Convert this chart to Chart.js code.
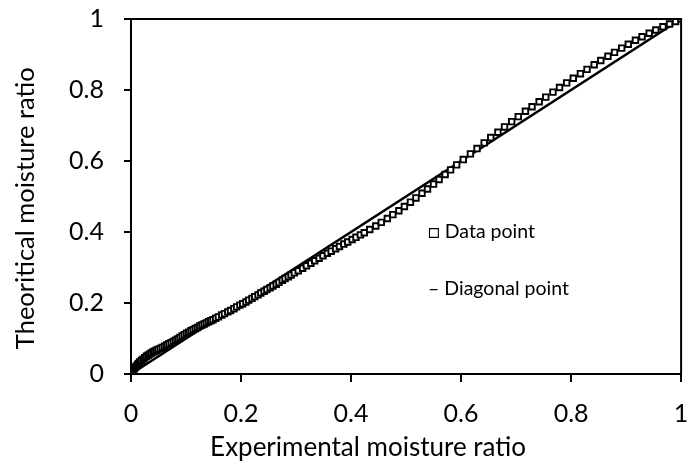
<!DOCTYPE html>
<html>
<head>
<meta charset="utf-8">
<script src="https://cdn.jsdelivr.net/npm/chart.js@4.4.1/dist/chart.umd.min.js"></script>
<style>
  html, body { margin: 0; padding: 0; background: #fff; }
  #wrap { width: 687px; height: 463px; position: relative; }
</style>
</head>
<body>
<div id="wrap"><canvas id="c" width="687" height="463"></canvas></div>
<script>
// Experimental moisture ratio (x) of each data point
const experimentalMR = [
  0, 0.002, 0.004, 0.006, 0.008, 0.010, 0.012, 0.014, 0.016, 0.019,
  0.022, 0.025, 0.028, 0.031, 0.034, 0.037, 0.040, 0.043, 0.046, 0.049,
  0.053, 0.057, 0.061, 0.065, 0.069, 0.073, 0.077, 0.081, 0.085, 0.089,
  0.093, 0.097, 0.101, 0.105, 0.109, 0.113, 0.117, 0.121, 0.125, 0.129,
  0.133, 0.137, 0.141, 0.145, 0.149,
  0.154, 0.159, 0.165, 0.170, 0.176, 0.181, 0.187, 0.192, 0.198, 0.203,
  0.209, 0.214, 0.220, 0.225, 0.231, 0.236, 0.242, 0.247, 0.253, 0.258,
  0.264, 0.269, 0.275, 0.280, 0.286, 0.291, 0.297,
  0.304, 0.312, 0.319, 0.327, 0.334, 0.342, 0.349, 0.357, 0.364, 0.372,
  0.379, 0.387, 0.394, 0.402, 0.409, 0.417, 0.424,
  0.434, 0.445, 0.455, 0.466, 0.476, 0.487, 0.497, 0.508, 0.518, 0.529,
  0.539, 0.550, 0.560, 0.571, 0.581, 0.592,
  0.604, 0.617, 0.629, 0.642, 0.654, 0.667, 0.679, 0.692, 0.704, 0.717,
  0.729, 0.742, 0.754, 0.767, 0.779, 0.792, 0.804, 0.817, 0.829, 0.842,
  0.854, 0.867, 0.879, 0.892, 0.904, 0.917, 0.929, 0.942, 0.954, 0.967,
  0.979, 0.990, 1.000
];
// Theoretical (predicted) moisture ratio (y) of each data point
const theoreticalMR = [
  0, 0.005, 0.010, 0.015, 0.019, 0.023, 0.027, 0.030, 0.034, 0.038,
  0.042, 0.046, 0.050, 0.053, 0.056, 0.059, 0.062, 0.064, 0.067, 0.069,
  0.072, 0.075, 0.078, 0.082, 0.085, 0.088, 0.092, 0.095, 0.099, 0.103,
  0.107, 0.111, 0.115, 0.118, 0.122, 0.125, 0.128, 0.131, 0.135, 0.138,
  0.141, 0.144, 0.147, 0.150, 0.153,
  0.157, 0.161, 0.166, 0.170, 0.175, 0.179, 0.184, 0.189, 0.194, 0.198,
  0.203, 0.208, 0.213, 0.218, 0.223, 0.228, 0.233, 0.238, 0.243, 0.248,
  0.253, 0.258, 0.264, 0.269, 0.274, 0.279, 0.285,
  0.291, 0.298, 0.305, 0.312, 0.319, 0.326, 0.333, 0.340, 0.346, 0.353,
  0.359, 0.366, 0.372, 0.379, 0.385, 0.392, 0.398,
  0.407, 0.417, 0.427, 0.438, 0.449, 0.460, 0.472, 0.484, 0.496, 0.509,
  0.521, 0.535, 0.548, 0.562, 0.575, 0.589,
  0.604, 0.620, 0.635, 0.651, 0.666, 0.681, 0.696, 0.711, 0.725, 0.740,
  0.753, 0.767, 0.780, 0.794, 0.807, 0.820, 0.833, 0.846, 0.858, 0.871,
  0.883, 0.895, 0.906, 0.918, 0.929, 0.940, 0.950, 0.960, 0.969, 0.978,
  0.986, 0.993, 1.000
];
// Diagonal (perfect agreement) line end points
const diagonalX = [0, 1];
const diagonalY = [0, 1];
// Tick labels
const xTickLabels = ['0', '0.2', '0.4', '0.6', '0.8', '1'];
const yTickLabels = ['0', '0.2', '0.4', '0.6', '0.8', '1'];
// Texts
const xTitle = 'Experimental moisture ratio';
const yTitle = 'Theoritical moisture ratio';
const legendTexts = ['\u25A1 Data point', '\u2013 Diagonal point'];
const legendAnchors = [[0.540, 0.40], [0.540, 0.24]]; // data coords of the legend texts

const FONT = 'Lato, "Open Sans", sans-serif';

const points = experimentalMR.map((x, i) => ({ x: x, y: theoreticalMR[i] }));
const diag = diagonalX.map((x, i) => ({ x: x, y: diagonalY[i] }));

const frame = {
  id: 'frame',
  afterDatasetsDraw(chart) {
    const { ctx, chartArea: a, scales } = chart;
    ctx.save();
    ctx.strokeStyle = '#000';
    ctx.lineWidth = 2;
    ctx.beginPath();
    ctx.moveTo(a.left, a.top);
    ctx.lineTo(a.right, a.top);
    ctx.lineTo(a.right, a.bottom);
    ctx.stroke();
    ctx.fillStyle = '#000';
    ctx.font = '19.5px ' + FONT;
    ctx.textAlign = 'left';
    ctx.textBaseline = 'middle';
    legendTexts.forEach((t, i) => {
      ctx.fillText(t, scales.x.getPixelForValue(legendAnchors[i][0]), scales.y.getPixelForValue(legendAnchors[i][1]));
    });
    ctx.restore();
  },
  afterDraw(chart) {
    const { ctx, chartArea: a } = chart;
    ctx.save();
    ctx.fillStyle = '#000';
    ctx.textAlign = 'center';
    ctx.textBaseline = 'alphabetic';
    // x axis title (sits a little left of the plot centre, as in the original)
    ctx.font = '26px ' + FONT;
    ctx.fillText(xTitle, a.left + (a.right - a.left) * 0.431, 456);
    // y axis title
    ctx.font = '25.5px ' + FONT;
    ctx.translate(34, a.top + (a.bottom - a.top) * 0.533);
    ctx.rotate(-Math.PI / 2);
    ctx.fillText(yTitle, 0, 0);
    ctx.restore();
  }
};

new Chart(document.getElementById('c'), {
  type: 'scatter',
  data: {
    datasets: [
      {
        label: 'Diagonal point',
        data: diag,
        showLine: true,
        borderColor: '#000',
        borderWidth: 2.5,
        pointRadius: 0,
        order: 2
      },
      {
        label: 'Data point',
        data: points,
        showLine: false,
        pointStyle: 'rect',
        pointRadius: 3.9,
        pointBorderWidth: 1.9,
        pointBorderColor: '#000',
        pointBackgroundColor: '#fff',
        order: 1
      }
    ]
  },
  options: {
    responsive: false,
    animation: false,
    layout: { padding: { top: 19, right: 4, left: 0, bottom: 0 } },
    plugins: { legend: { display: false }, tooltip: { enabled: false } },
    scales: {
      x: {
        type: 'linear', min: 0, max: 1,
        afterFit(s) { s.height = 89; s.paddingLeft = 0; s.paddingRight = 0; },
        border: { color: '#000', width: 2 },
        grid: { drawOnChartArea: false, drawTicks: true, tickLength: 8, color: '#000', lineWidth: 2 },
        ticks: {
          stepSize: 0.2, color: '#000', padding: 17, maxRotation: 0,
          font: { family: FONT, size: 25 },
          callback: (v, i) => xTickLabels[i]
        },
        title: { display: false }
      },
      y: {
        type: 'linear', min: 0, max: 1,
        afterFit(s) { s.width = 131; s.paddingTop = 0; s.paddingBottom = 0; },
        border: { color: '#000', width: 2 },
        grid: { drawOnChartArea: false, drawTicks: true, tickLength: 7, color: '#000', lineWidth: 2 },
        ticks: {
          stepSize: 0.2, color: '#000', padding: 20,
          font: { family: FONT, size: 25 },
          callback: (v, i) => yTickLabels[i]
        },
        title: { display: false }
      }
    }
  },
  plugins: [frame]
});
</script>
</body>
</html>
